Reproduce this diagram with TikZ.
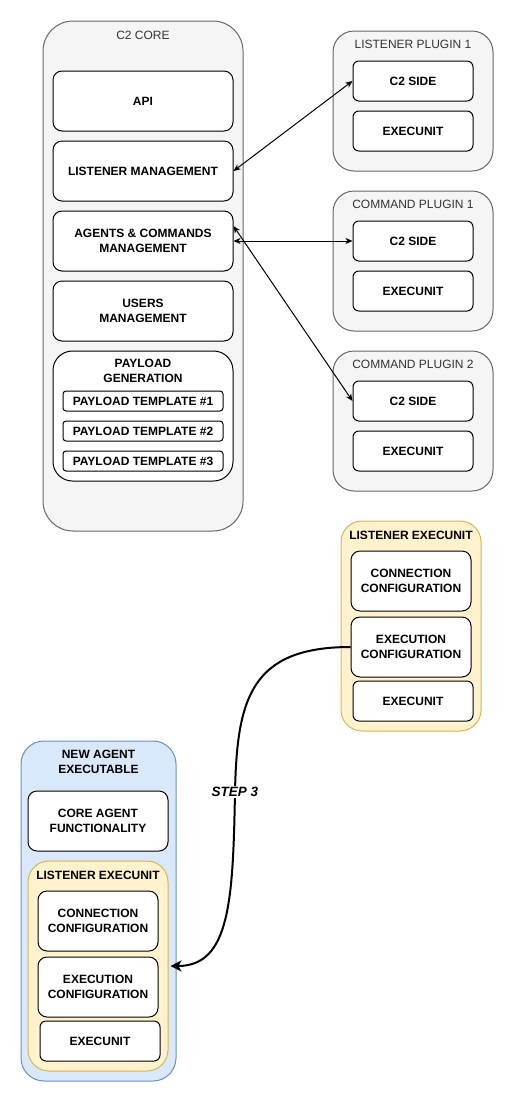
\documentclass[tikz,border=0pt]{standalone}
\usepackage{fontspec}
\setmainfont{Liberation Sans}
\usetikzlibrary{arrows.meta}
\definecolor{panelfill}{HTML}{F5F5F5}
\definecolor{paneldraw}{HTML}{666666}
\definecolor{paneltext}{HTML}{333333}
\definecolor{unitfill}{HTML}{FFF2CC}
\definecolor{unitdraw}{HTML}{D6B656}
\definecolor{agentfill}{HTML}{DAE8FC}
\definecolor{agentdraw}{HTML}{6C8EBF}
\tikzset{every picture/.style={line width=1pt}}

\begin{document}
\begin{tikzpicture}[x=1pt,y=1pt,yscale=-1,
    panel/.style={draw=paneldraw, fill=panelfill, inner sep=0pt},
    paneltitle/.style={inner sep=0pt, text=paneltext, font=\fontsize{12}{14.5}\selectfont},
    unitpanel/.style={draw=unitdraw, fill=unitfill, inner sep=0pt},
    agentpanel/.style={draw=agentdraw, fill=agentfill, inner sep=0pt},
    boldtitle/.style={inner sep=0pt, align=center, font=\fontsize{12}{14.5}\selectfont\bfseries},
    block/.style={draw, fill=white, rounded corners=9pt, inner sep=0pt, align=center, minimum width=180pt, minimum height=60pt, font=\fontsize{12}{14.5}\selectfont\bfseries},
    smallblock/.style={block, rounded corners=6pt, minimum width=120pt, minimum height=40pt},
    tmplblock/.style={block, rounded corners=3pt, minimum width=160pt, minimum height=20pt},
    link/.style={{Stealth[length=7pt,width=6pt,inset=2pt]}-{Stealth[length=7pt,width=6pt,inset=2pt]}},
    steplink/.style={line width=2pt, -{Stealth[length=11pt,width=11pt,inset=3pt]}},
    steplabel/.style={fill=white, inner sep=1pt, font=\fontsize{13.5}{16}\selectfont\bfseries\itshape}]
    \useasboundingbox (0,0) rectangle (516,1104);

    % C2 core
    \node [panel, rounded corners=30pt, minimum width=200pt, minimum height=510pt] (core) at (143,276) {};
    \node [paneltitle] (coretitle) at (143,35) {C2 CORE};
    \node [block] (api) at (143,101) {API};
    \node [block] (lman) at (143,171) {LISTENER MANAGEMENT};
    \node [block] (acman) at (143,241) {AGENTS \& COMMANDS\\MANAGEMENT};
    \node [block] (uman) at (143,311) {USERS\\MANAGEMENT};
    \node [block, rounded corners=19.5pt, minimum height=130pt] (paygen) at (143,416) {};
    \node [boldtitle] (paygentitle) at (143,371) {PAYLOAD\\GENERATION};
    \node [tmplblock] (tmpla) at (143,401) {PAYLOAD TEMPLATE \#1};
    \node [tmplblock] (tmplb) at (143,431) {PAYLOAD TEMPLATE \#2};
    \node [tmplblock] (tmplc) at (143,461) {PAYLOAD TEMPLATE \#3};

    % plugins
    \node [panel, rounded corners=21pt, minimum width=160pt, minimum height=140pt] (lplug) at (413,101) {};
    \node [paneltitle] (lplugtitle) at (413,44) {LISTENER PLUGIN 1};
    \node [smallblock] (lplugside) at (413,81) {C2 SIDE};
    \node [smallblock] (lplugunit) at (413,131) {EXECUNIT};

    \node [panel, rounded corners=21pt, minimum width=160pt, minimum height=140pt] (cplugA) at (413,261) {};
    \node [paneltitle] (cplugAtitle) at (413,204) {COMMAND PLUGIN 1};
    \node [smallblock] (cplugAside) at (413,241) {C2 SIDE};
    \node [smallblock] (cplugAunit) at (413,291) {EXECUNIT};

    \node [panel, rounded corners=21pt, minimum width=160pt, minimum height=140pt] (cplugB) at (413,421) {};
    \node [paneltitle] (cplugBtitle) at (413,364) {COMMAND PLUGIN 2};
    \node [smallblock] (cplugBside) at (413,401) {C2 SIDE};
    \node [smallblock] (cplugBunit) at (413,451) {EXECUNIT};

    % listener execunit
    \node [unitpanel, rounded corners=21pt, minimum width=140pt, minimum height=210pt] (lexec) at (411,626) {};
    \node [boldtitle] (lexectitle) at (411,535) {LISTENER EXECUNIT};
    \node [block, minimum width=120pt] (lconn) at (411,581) {CONNECTION\\CONFIGURATION};
    \node [block, minimum width=120pt] (lrun) at (411,647) {EXECUTION\\CONFIGURATION};
    \node [smallblock] (lunit) at (413,701) {EXECUNIT};

    % new agent
    \node [agentpanel, rounded corners=23pt, minimum width=155pt, minimum height=340pt] (agent) at (98.5,911) {};
    \node [boldtitle] (agenttitle) at (98.5,762) {NEW AGENT\\EXECUTABLE};
    \node [block, minimum width=140pt] (agentcore) at (98,821) {CORE AGENT\\FUNCTIONALITY};
    \node [unitpanel, rounded corners=21pt, minimum width=140pt, minimum height=210pt] (aexec) at (98,966) {};
    \node [boldtitle] (aexectitle) at (98,875) {LISTENER EXECUNIT};
    \node [block, minimum width=120pt] (aconn) at (98,921) {CONNECTION\\CONFIGURATION};
    \node [block, minimum width=120pt] (arun) at (98,987) {EXECUTION\\CONFIGURATION};
    \node [smallblock] (aunit) at (100,1041) {EXECUNIT};

    % links
    \draw [link] (lman.east) -- (lplugside.west);
    \draw [link] (acman.east) -- (cplugAside.west);
    \draw [link] ([yshift=-15pt]acman.east) -- (cplugBside.west);
    \draw [steplink] (lrun.west) .. controls (250,647) and (237,700) .. (235,792) node [steplabel] (step) {STEP 3} .. controls (233,900) and (230,966) .. ([xshift=2pt]aexec.east);
\end{tikzpicture}
\end{document}
